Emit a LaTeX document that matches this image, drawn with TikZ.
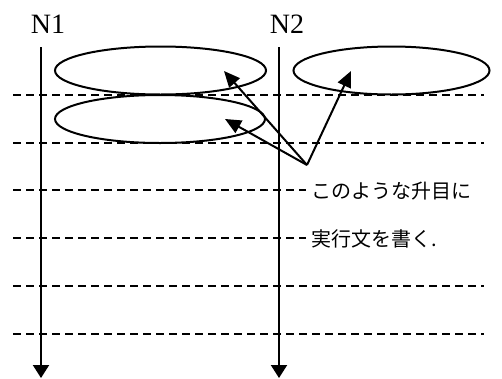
\documentclass[tikz,border=0pt]{standalone}
\usepackage{fontspec}
\newfontfamily\jpfont{Noto Sans CJK JP}
\newfontfamily\lblfont{Liberation Serif}
\usetikzlibrary{arrows.meta}
\begin{document}
\begin{tikzpicture}[x=1pt,y=-1pt,
  grid/.style={line width=2pt,dash pattern=on 8pt off 5pt},
  life/.style={line width=2pt,-{Triangle[length=13pt,width=16pt]}},
  pointer/.style={line width=2pt,-{Triangle[length=16pt,width=14pt]}},
  slot/.style={line width=2pt},
  lbl/.style={font=\lblfont\fontsize{28}{30}\selectfont,inner sep=0pt},
  jp/.style={font=\jpfont\fontsize{20}{22}\selectfont,inner sep=0pt,anchor=west}]
\useasboundingbox (0,0) rectangle (502,378);
% dashed rows
\coordinate (r1a) at (13,95);  \coordinate (r1b) at (484,95);
\coordinate (r2a) at (13,143); \coordinate (r2b) at (484,143);
\coordinate (r3a) at (13,190); \coordinate (r3b) at (306,190);
\coordinate (r4a) at (13,238); \coordinate (r4b) at (306,238);
\coordinate (r5a) at (13,286); \coordinate (r5b) at (484,286);
\coordinate (r6a) at (13,334); \coordinate (r6b) at (484,334);
\foreach \i in {1,...,6} \draw[grid] (r\i a) -- (r\i b);
% lifelines
\node[lbl] (n1) at (48,24) {N1};
\node[lbl] (n2) at (287,24) {N2};
\coordinate (l1t) at (41,47); \coordinate (l1b) at (41,378);
\coordinate (l2t) at (279,47); \coordinate (l2b) at (279,378);
\draw[life] (l1t) -- (l1b);
\draw[life] (l2t) -- (l2b);
% ellipses
\draw[slot] (160.5,70.5) ellipse [x radius=105.5,y radius=24];
\draw[slot] (160,119) ellipse [x radius=105,y radius=24];
\draw[slot] (391.5,70.5) ellipse [x radius=98,y radius=24];
% arrows
\coordinate (src) at (307,165);
\coordinate (t1) at (224,71);
\coordinate (t2) at (225,119);
\coordinate (t3) at (351,71);
\draw[pointer] (src) -- (t1);
\draw[pointer] (src) -- (t2);
\draw[pointer] (src) -- (t3);
% text
\node[jp] (txt1) at (311,191) {このような升目に};
\node[jp] (txt2) at (311,239) {実行文を書く.};
\end{tikzpicture}
\end{document}
